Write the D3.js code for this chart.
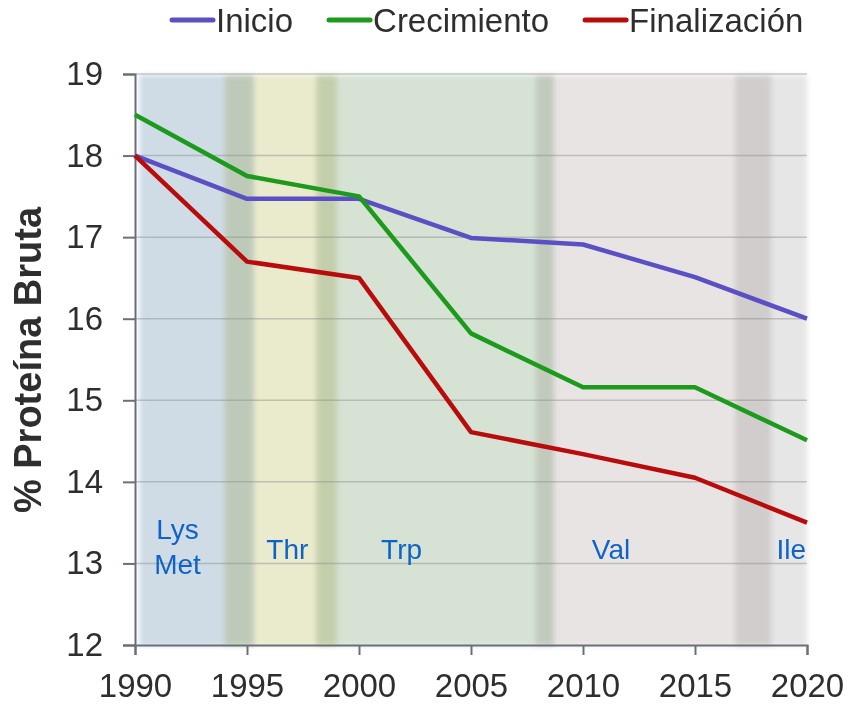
<!DOCTYPE html>
<html>
<head>
<meta charset="utf-8">
<script src="https://cdn.jsdelivr.net/npm/d3@7"></script>
<style>
  body { margin: 0; background: #fff; }
  svg { display: block; font-family: "Liberation Sans", Arial, sans-serif; }
</style>
</head>
<body>
<div id="chart"></div>
<script>
// Data
const years = [1990, 1995, 2000, 2005, 2010, 2015, 2020];
const inicio = [18.0, 17.47, 17.47, 16.99, 16.91, 16.51, 16.0];
const crecimiento = [18.5, 17.75, 17.5, 15.82, 15.16, 15.16, 14.51];
const finalizacion = [18.0, 16.7, 16.5, 14.61, 14.34, 14.05, 13.5];
const seriesNames = ["Inicio", "Crecimiento", "Finalización"];

// amino acid periods (years)
const bandStart = [1990.2, 1994.0, 1998.1, 2007.9, 2016.8];
const bandEnd = [1995.3, 1999.0, 2008.7, 2018.4, 2020.0];
const bandLabels = [["Lys", "Met"], ["Thr"], ["Trp"], ["Val"], ["Ile"]];
const bandLabelYear = [1991.9, 1996.8, 2001.9, 2011.25, 2019.3];

const yTicks = [12, 13, 14, 15, 16, 17, 18, 19];
const xTicks = [1990, 1995, 2000, 2005, 2010, 2015, 2020];

// Layout
const W = 853, H = 706;
const margin = { top: 74, right: 46, bottom: 61, left: 135 };
const seriesColors = ["#5b4fc4", "#1b9a1b", "#b80c0c"];
const bandColors = ["#cfdce6", "#eaeacd", "#d5e2d4", "#e8e4e4", "#e6e6e6"];
const textColor = "#2e2e2e";

const x = d3.scaleLinear().domain([1990, 2020]).range([margin.left, W - margin.right]);
const y = d3.scaleLinear().domain([12, 19]).range([H - margin.bottom, margin.top]);

const svg = d3.select("#chart").append("svg").attr("width", W).attr("height", H);

const defs = svg.append("defs");
defs.append("filter")
  .attr("id", "soft")
  .attr("x", "-20%").attr("y", "-5%").attr("width", "140%").attr("height", "110%")
  .append("feGaussianBlur")
  .attr("stdDeviation", 2.5);

// Bands
const bands = bandStart.map((s, i) => ({ s, e: bandEnd[i], color: bandColors[i], label: bandLabels[i], ly: bandLabelYear[i] }));
svg.append("g")
  .attr("class", "bands")
  .style("isolation", "isolate")
  .selectAll("rect")
  .data(bands)
  .join("rect")
  .attr("x", (d) => x(d.s))
  .attr("width", (d) => x(d.e) - x(d.s))
  .attr("y", y(19) + 1)
  .attr("height", y(12) - y(19))
  .attr("fill", (d) => d.color)
  .attr("filter", "url(#soft)")
  .style("mix-blend-mode", "multiply");

// Grid
svg.append("g")
  .attr("class", "grid")
  .selectAll("line")
  .data(yTicks.filter((d) => d > 12))
  .join("line")
  .attr("x1", x(1990))
  .attr("x2", x(2020))
  .attr("y1", (d) => y(d))
  .attr("y2", (d) => y(d))
  .attr("stroke", "rgba(140,140,140,0.45)")
  .attr("stroke-width", 1.5);

// Band labels
const bl = svg.append("g")
  .attr("class", "band-labels")
  .selectAll("text")
  .data(bands)
  .join("text")
  .attr("text-anchor", "middle")
  .attr("fill", "#0f63c8")
  .attr("font-size", 28)
  .attr("x", (d) => x(d.ly))
  .attr("y", (d) => (d.label.length > 1 ? 539 : 559));
bl.selectAll("tspan")
  .data((d) => d.label)
  .join("tspan")
  .attr("x", function () { return d3.select(this.parentNode).attr("x"); })
  .attr("dy", (d, i) => (i === 0 ? 0 : 35))
  .text((d) => d);

// Axes
const axisColor = "#6b6f78";
const yAxis = svg.append("g")
  .attr("transform", `translate(${margin.left},0)`)
  .call(d3.axisLeft(y).tickValues(yTicks).tickSize(12).tickPadding(20).tickFormat(d3.format("d")));
const xAxis = svg.append("g")
  .attr("transform", `translate(0,${H - margin.bottom})`)
  .call(d3.axisBottom(x).tickValues(xTicks).tickSize(10).tickPadding(19).tickFormat(d3.format("d")));

[yAxis, xAxis].forEach((a) => {
  a.select(".domain").attr("stroke", axisColor).attr("stroke-width", 2);
  a.selectAll(".tick line").attr("stroke", axisColor).attr("stroke-width", 2);
  a.selectAll(".tick text")
    .attr("fill", textColor)
    .attr("font-size", 33)
    .attr("font-family", "Liberation Sans, Arial, sans-serif");
});

// Y label
svg.append("text")
  .attr("transform", `translate(${41},${360}) rotate(-90)`)
  .attr("text-anchor", "middle")
  .attr("font-size", 38)
  .attr("font-weight", "bold")
  .attr("fill", textColor)
  .text("% Proteína Bruta");

// Lines
const series = [inicio, crecimiento, finalizacion].map((vals, i) => ({
  name: seriesNames[i],
  color: seriesColors[i],
  values: vals.map((v, j) => ({ year: years[j], value: v })),
}));

const line = d3.line().x((d) => x(d.year)).y((d) => y(d.value));

svg.append("g")
  .attr("class", "lines")
  .selectAll("path")
  .data(series)
  .join("path")
  .attr("d", (d) => line(d.values))
  .attr("fill", "none")
  .attr("stroke", (d) => d.color)
  .attr("stroke-width", 4.5)
  .attr("stroke-linejoin", "round");

// Legend
const legend = svg.append("g").attr("class", "legend");
let lx = 172;
series.forEach((s) => {
  legend.append("line")
    .attr("x1", lx).attr("x2", lx + 41)
    .attr("y1", 20).attr("y2", 20)
    .attr("stroke", s.color)
    .attr("stroke-width", 5)
    .attr("stroke-linecap", "round");
  const t = legend.append("text")
    .attr("x", lx + 44)
    .attr("y", 32)
    .attr("font-size", 33)
    .attr("fill", textColor)
    .text(s.name);
  lx += 44 + t.node().getComputedTextLength() + 36;
});
</script>
</body>
</html>
